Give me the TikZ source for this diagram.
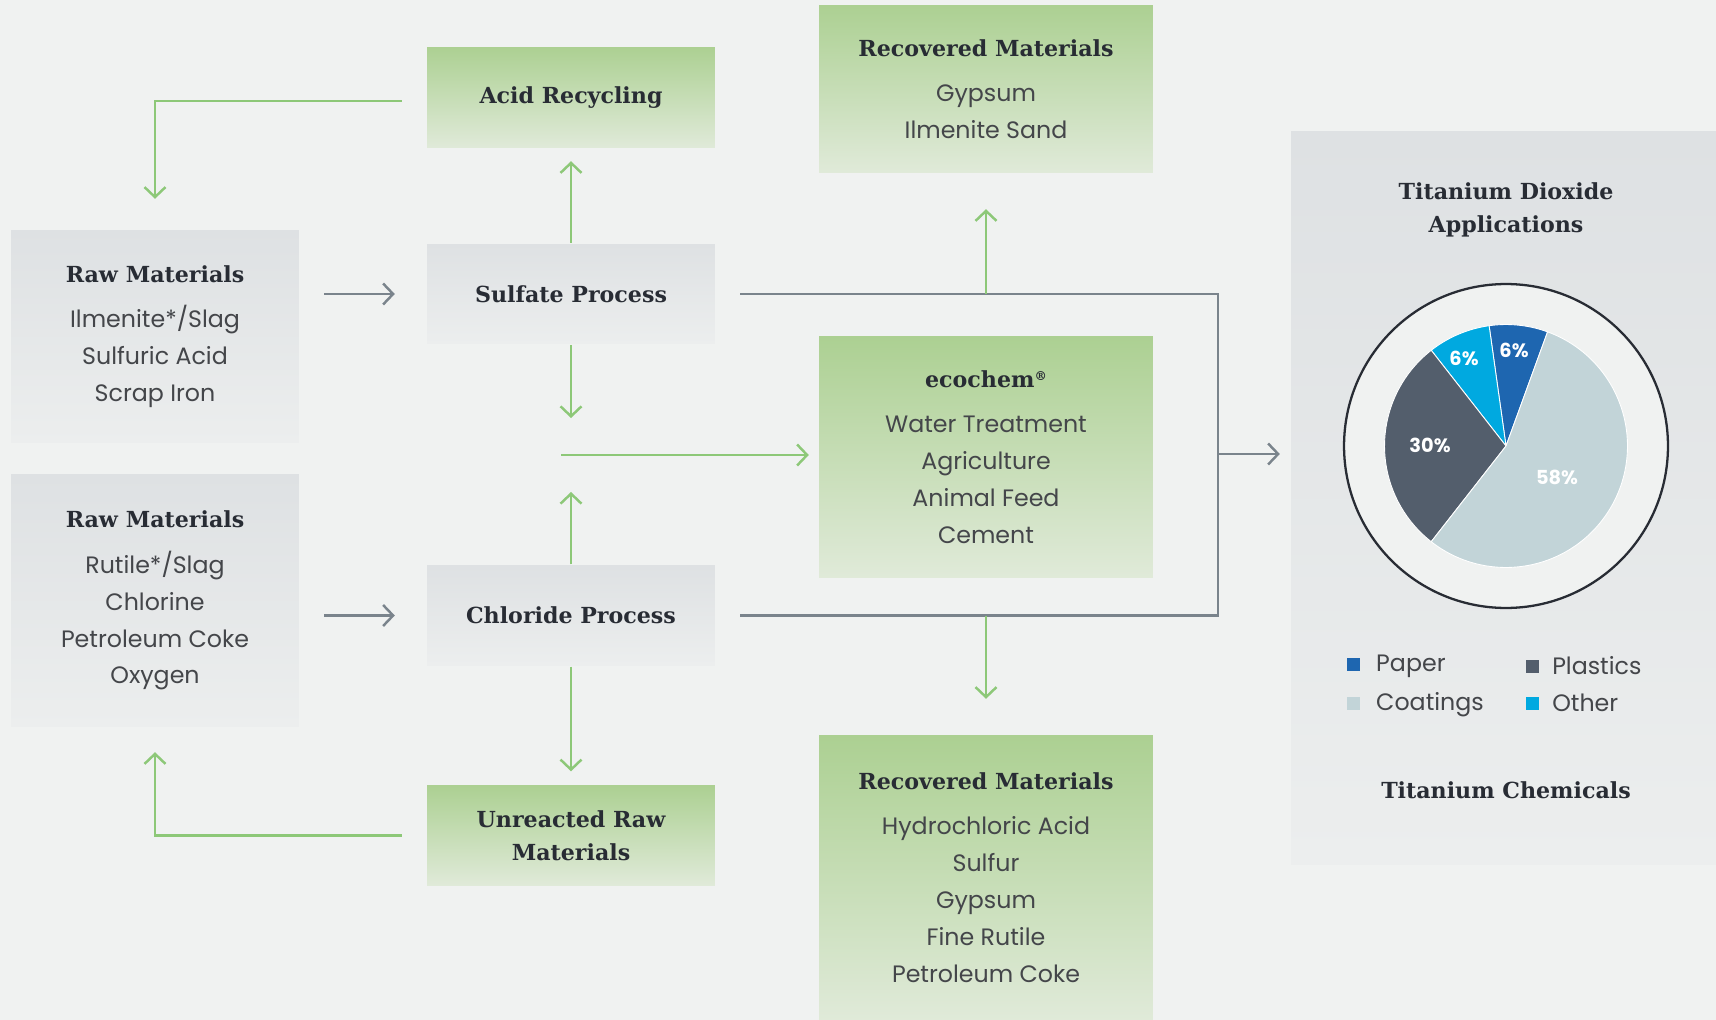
\documentclass[tikz,border=0pt]{standalone}
\usepackage{fontspec}
\setmainfont{Poppins}
\newfontfamily\headfont{DejaVu Serif}
\usetikzlibrary{arrows.meta}

\definecolor{bgcol}{RGB}{240,242,241}
\definecolor{leaf}{RGB}{141,200,120}
\definecolor{slate}{RGB}{122,132,140}
\definecolor{boxtop}{RGB}{222,225,227}
\definecolor{boxbot}{RGB}{236,238,238}
\definecolor{leaftop}{RGB}{172,208,146}
\definecolor{leafbot}{RGB}{224,234,217}
\definecolor{inktext}{RGB}{40,44,52}
\definecolor{bodytext}{RGB}{68,70,74}
\definecolor{paperblue}{RGB}{30,102,176}
\definecolor{otherblue}{RGB}{0,169,224}
\definecolor{plasticgray}{RGB}{83,94,108}
\definecolor{coatgray}{RGB}{194,212,216}

\newcommand{\hd}[1]{{\headfont\bfseries\fontsize{12.6}{21}\selectfont\color{inktext}#1}}

\begin{document}
\begin{tikzpicture}[x=0.02cm,y=-0.02cm,line width=1.4pt,
  >={Straight Barb[length=0.2cm,width=0.42cm]},
  flow/.style={draw=leaf,->},
  feed/.style={draw=slate,->},
  graybox/.style={top color=boxtop,bottom color=boxbot,draw=none,inner sep=0pt,
    align=center,text=bodytext,font=\fontsize{13.5}{21}\selectfont},
  greenbox/.style={graybox,top color=leaftop,bottom color=leafbot},
  legend/.style={minimum size=0.26cm,inner sep=0pt}]
  \useasboundingbox (0,0) rectangle (1716,1020);
  \fill[bgcol] (0,0) rectangle (1716,1020);

  \node[graybox,minimum width=5.76cm,minimum height=4.26cm] (raw1) at (155,336.5)
    {\hd{Raw Materials}\\[5pt] Ilmenite*/Slag\\ Sulfuric Acid\\ Scrap Iron};
  \node[graybox,minimum width=5.76cm,minimum height=5.06cm] (raw2) at (155,600.5)
    {\hd{Raw Materials}\\[5pt] Rutile*/Slag\\ Chlorine\\ Petroleum Coke\\ Oxygen};
  \node[greenbox,minimum width=5.76cm,minimum height=2.02cm] (acid) at (571,97.5)
    {\hd{Acid Recycling}};
  \node[graybox,minimum width=5.76cm,minimum height=2cm] (sulfate) at (571,294)
    {\hd{Sulfate Process}};
  \node[graybox,minimum width=5.76cm,minimum height=2cm] (chloride) at (571,615.5)
    {\hd{Chloride Process}};
  \node[greenbox,minimum width=5.76cm,minimum height=2cm,
    font=\headfont\bfseries\fontsize{12.6}{19}\selectfont,text=inktext] (unreacted) at (571,835.5)
    {Unreacted Raw\\ Materials};
  \node[greenbox,minimum width=6.68cm,minimum height=3.36cm] (rectop) at (986,89)
    {\hd{Recovered Materials}\\[5pt] Gypsum\\ Ilmenite Sand};
  \node[greenbox,minimum width=6.68cm,minimum height=4.84cm] (ecochem) at (986,457)
    {\hd{ecochem{\fontsize{7}{7}\selectfont\raisebox{4pt}{®}}}\\[5pt] Water Treatment\\ Agriculture\\ Animal Feed\\ Cement};
  \node[greenbox,minimum width=6.68cm,minimum height=5.7cm] (recbot) at (986,877.5)
    {\hd{Recovered Materials}\\[5pt] Hydrochloric Acid\\ Sulfur\\ Gypsum\\ Fine Rutile\\ Petroleum Coke};
  \node[graybox,minimum width=8.5cm,minimum height=14.68cm] (panel) at (1503.5,498) {};

  \node[align=center,font=\headfont\bfseries\fontsize{12.6}{19}\selectfont,text=inktext] (title) at (1506,210)
    {Titanium Dioxide\\ Applications};
  \node[font=\headfont\bfseries\fontsize{12.6}{19}\selectfont,text=inktext] (chem) at (1506,790)
    {Titanium Chemicals};

  \coordinate (pc) at (1506,446);
  \begin{scope}[shift={(pc)},x=1cm,y=1cm,line width=1.3pt]
    \draw[draw=inktext,fill=bgcol] (0,0) circle (3.24);
    \begin{scope}[draw=white,line width=0.5pt]
      \filldraw[fill=paperblue] (0,0) -- (70:2.43) arc[start angle=70,end angle=98,radius=2.43] -- cycle;
      \filldraw[fill=otherblue] (0,0) -- (98:2.43) arc[start angle=98,end angle=128,radius=2.43] -- cycle;
      \filldraw[fill=plasticgray] (0,0) -- (128:2.43) arc[start angle=128,end angle=232,radius=2.43] -- cycle;
      \filldraw[fill=coatgray] (0,0) -- (232:2.43) arc[start angle=232,end angle=430,radius=2.43] -- cycle;
    \end{scope}
  \end{scope}
  \begin{scope}[every node/.style={text=white,font=\bfseries\fontsize{11}{11}\selectfont}]
    \node (ppaper) at (1514,350) {6\%};
    \node (pother) at (1464,358) {6\%};
    \node (pplast) at (1430,445) {30\%};
    \node (pcoat) at (1557,477) {58\%};
  \end{scope}

  \node[legend,fill=paperblue] (kpaper) at (1353,664) {};
  \node[legend,fill=coatgray] (kcoat) at (1353,703) {};
  \node[legend,fill=plasticgray] (kplast) at (1532,666) {};
  \node[legend,fill=otherblue] (kother) at (1532,703) {};
  \begin{scope}[every node/.style={anchor=west,text=bodytext,font=\fontsize{13.5}{15}\selectfont,inner sep=0pt}]
    \node at ([xshift=0.44cm,yshift=-0.05cm]kpaper.center) {Paper};
    \node at ([xshift=0.44cm,yshift=-0.04cm]kcoat.center) {Coatings};
    \node at ([xshift=0.38cm]kplast.center) {Plastics};
    \node at ([xshift=0.38cm]kother.center) {Other};
  \end{scope}

  \coordinate (merge) at (571,455);
  \coordinate (bustop) at (1218,294);
  \coordinate (busbot) at (1218,615.5);
  \coordinate (busmid) at (1218,454);

  \draw[flow] ([yshift=-0.07cm,xshift=-0.48cm]acid.west) -| ([yshift=0.6cm]raw1.north);
  \draw[flow] ([xshift=-0.48cm]unreacted.west) -| ([yshift=-0.48cm]raw2.south);
  \draw[feed,shorten <=0.48cm,shorten >=0.62cm] (raw1.east |- sulfate) -- (sulfate.west);
  \draw[feed,shorten <=0.48cm,shorten >=0.62cm] (raw2.east |- chloride) -- (chloride.west);
  \draw[flow,shorten >=0.24cm] (sulfate.north) -- (acid.south);
  \draw[flow,shorten >=0.26cm] (chloride.south) -- (unreacted.north);
  \draw[flow] (sulfate.south) -- ([yshift=0.74cm]merge);
  \draw[flow] (chloride.north) -- ([yshift=-0.74cm]merge);
  \draw[flow,shorten >=0.18cm] ([xshift=-0.2cm]merge) -- (ecochem.west |- merge);
  \draw[draw=slate] ([xshift=0.48cm]sulfate.east) -- (bustop) -- (busbot) -- ([xshift=0.48cm]chloride.east);
  \draw[feed,shorten >=0.2cm] (busmid) -- (panel.west |- busmid);
  \draw[flow,shorten >=0.7cm] (bustop -| rectop) -- (rectop.south);
  \draw[flow,shorten >=0.7cm] (busbot -| recbot) -- (recbot.north);
\end{tikzpicture}
\end{document}
